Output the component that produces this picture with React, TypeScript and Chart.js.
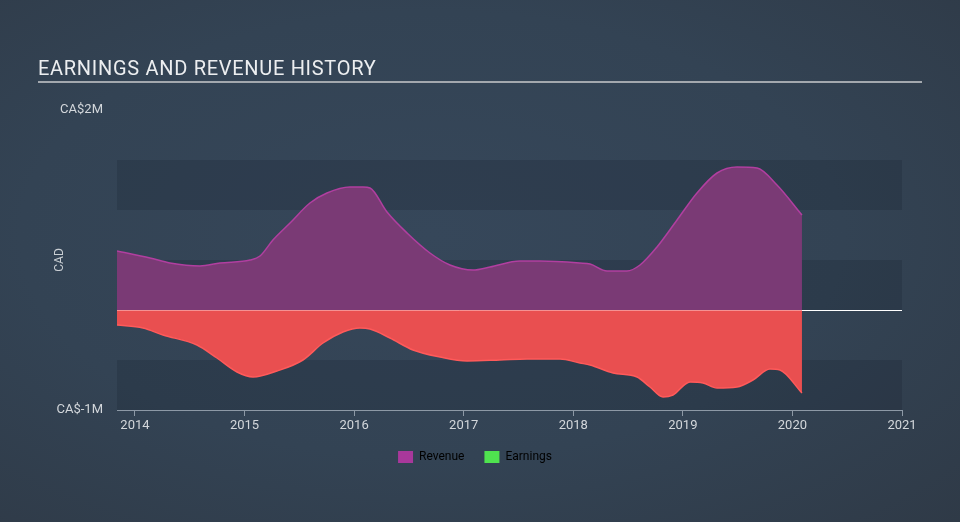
import { useEffect, useRef } from "react";
import { Chart, registerables } from "chart.js";

Chart.register(...registerables);

const TITLE = "EARNINGS AND REVENUE HISTORY";
const Y_TITLE = "CAD";
const YEAR_TICKS = [2014, 2015, 2016, 2017, 2018, 2019, 2020, 2021];
const Y_TICKS = [-1, 2];
const X_MIN = 2013.836;
const X_MAX = 2021;
const Y_MIN = -1;
const Y_MAX = 2;
const BANDS = [
  [1.0, 1.5],
  [0, 0.5],
  [-1, -0.5],
];

const REVENUE_YEARS = [
  2013.836, 2014.137, 2014.319, 2014.593, 2014.776, 2015.05, 2015.141, 2015.259,
  2015.415, 2015.597, 2015.752, 2015.962, 2016.081, 2016.145, 2016.3, 2016.483,
  2016.692, 2016.875, 2017.085, 2017.24, 2017.514, 2017.696, 2018.061, 2018.153,
  2018.308, 2018.49, 2018.609, 2018.764, 2018.947, 2019.129, 2019.312, 2019.494,
  2019.677, 2019.859, 2020.087,
];
const REVENUE_VALUES = [
  0.59, 0.52, 0.47, 0.44, 0.47, 0.5, 0.54, 0.7, 0.87, 1.07, 1.17, 1.23, 1.23,
  1.22, 0.98, 0.77, 0.57, 0.45, 0.4, 0.43, 0.49, 0.49, 0.47, 0.46, 0.39, 0.39,
  0.45, 0.63, 0.9, 1.17, 1.37, 1.43, 1.42, 1.25, 0.95,
];

const EARNINGS_YEARS = [
  2013.836, 2014.073, 2014.256, 2014.566, 2014.748, 2014.931, 2015.077, 2015.296,
  2015.533, 2015.716, 2015.898, 2016.053, 2016.145, 2016.327, 2016.537, 2016.784,
  2017.03, 2017.331, 2017.578, 2017.879, 2018.061, 2018.153, 2018.363, 2018.582,
  2018.7, 2018.819, 2018.91, 2019.065, 2019.184, 2019.312, 2019.494, 2019.64,
  2019.795, 2019.886, 2020.087,
];
const EARNINGS_VALUES = [
  -0.15, -0.18, -0.25, -0.35, -0.48, -0.62, -0.67, -0.61, -0.5, -0.33, -0.22,
  -0.18, -0.19, -0.28, -0.4, -0.47, -0.51, -0.5, -0.49, -0.49, -0.53, -0.55,
  -0.63, -0.67, -0.77, -0.87, -0.85, -0.72, -0.73, -0.78, -0.77, -0.7, -0.59,
  -0.6, -0.83,
];

const FONT = "Roboto, 'Open Sans', sans-serif";

export default function App() {
  const canvasRef = useRef<HTMLCanvasElement | null>(null);

  useEffect(() => {
    document.body.style.margin = "0";
    document.body.style.background = "#333f4e";
    const canvas = canvasRef.current;
    if (!canvas) return;

    const bandsPlugin = {
      id: "bands",
      beforeDatasetsDraw(chart: any) {
        const { ctx, chartArea, scales } = chart;
        const y = scales.y;
        ctx.save();
        ctx.fillStyle = "rgba(10, 20, 30, 0.16)";
        for (const [a, b] of BANDS) {
          const y1 = y.getPixelForValue(b);
          const y2 = y.getPixelForValue(a);
          ctx.fillRect(chartArea.left, y1, chartArea.right - chartArea.left, y2 - y1);
        }
        ctx.restore();
      },
      afterDatasetsDraw(chart: any) {
        const { ctx, chartArea, scales } = chart;
        const y0 = Math.round(scales.y.getPixelForValue(0)) + 0.5;
        const xEnd = scales.x.getPixelForValue(REVENUE_YEARS[REVENUE_YEARS.length - 1]);
        ctx.save();
        ctx.lineWidth = 1;
        ctx.strokeStyle = "rgba(255, 200, 200, 0.55)";
        ctx.beginPath();
        ctx.moveTo(chartArea.left, y0);
        ctx.lineTo(xEnd, y0);
        ctx.stroke();
        ctx.strokeStyle = "#ffffff";
        ctx.beginPath();
        ctx.moveTo(xEnd, y0);
        ctx.lineTo(chartArea.right, y0);
        ctx.stroke();
        ctx.restore();
      },
      afterDraw(chart: any) {
        const { ctx, chartArea } = chart;
        ctx.save();
        ctx.fillStyle = "#eceef0";
        ctx.font = `20px ${FONT}`;
        ctx.textBaseline = "alphabetic";
        ctx.textAlign = "left";
        (ctx as any).letterSpacing = "0.7px";
        ctx.fillText(TITLE, 38, 75);
        (ctx as any).letterSpacing = "0px";
        ctx.fillStyle = "#a3a8ae";
        ctx.fillRect(38, 81, 884, 2);
        ctx.translate(60, (chartArea.top + chartArea.bottom) / 2);
        ctx.rotate(-Math.PI / 2);
        ctx.textAlign = "center";
        ctx.textBaseline = "middle";
        ctx.font = `12px ${FONT}`;
        ctx.fillStyle = "#c9ced3";
        ctx.fillText(Y_TITLE, 0, 0);
        ctx.restore();
      },
    };

    const chart = new Chart(canvas, {
      type: "line",
      data: {
        datasets: [
          {
            label: "Revenue",
            data: REVENUE_YEARS.map((x, i) => ({ x, y: REVENUE_VALUES[i] })),
            borderColor: "#b13fa0",
            backgroundColor: "#7a3a75",
            borderWidth: 1.5,
            fill: "origin",
            pointRadius: 0,
            cubicInterpolationMode: "monotone",
          },
          {
            label: "Earnings",
            data: EARNINGS_YEARS.map((x, i) => ({ x, y: EARNINGS_VALUES[i] })),
            borderColor: "#ff5a5a",
            backgroundColor: "#e94f50",
            borderWidth: 1.5,
            fill: "origin",
            pointRadius: 0,
            cubicInterpolationMode: "monotone",
          },
        ],
      },
      options: {
        animation: false,
        responsive: false,
        maintainAspectRatio: false,
        layout: { padding: { top: 110, left: 48, right: 58, bottom: 49 } },
        scales: {
          x: {
            type: "linear",
            min: X_MIN,
            max: X_MAX,
            afterBuildTicks: (s: any) => {
              s.ticks = YEAR_TICKS.map((v) => ({ value: v }));
            },
            afterFit: (s: any) => {
              s.height = 21;
            },
            grid: {
              display: true,
              drawOnChartArea: false,
              drawTicks: true,
              tickLength: 6,
              color: "#8d99a6",
            },
            border: { display: true, color: "#8d99a6", width: 1 },
            ticks: {
              color: "#d3d7db",
              font: { family: FONT, size: 13 },
              padding: 2,
              maxRotation: 0,
              autoSkip: false,
              callback: (v: any) => String(v),
            },
          },
          y: {
            type: "linear",
            min: Y_MIN,
            max: Y_MAX,
            afterBuildTicks: (s: any) => {
              s.ticks = Y_TICKS.map((v) => ({ value: v }));
            },
            afterFit: (s: any) => {
              s.width = 69;
            },
            grid: { display: false, drawTicks: false },
            border: { display: false },
            ticks: {
              color: "#d3d7db",
              font: { family: FONT, size: 13 },
              padding: 14,
              callback: (v: any) => `CA$${v}M`,
            },
          },
        },
        plugins: {
          title: { display: false },
          tooltip: { enabled: false },
          legend: {
            display: true,
            position: "bottom",
            labels: {
              boxWidth: 15,
              boxHeight: 12,
              padding: 20,
              color: "#d3d7db",
              font: { family: FONT, size: 12 },
              generateLabels: () => [
                { text: "Revenue", fillStyle: "#a8389b", strokeStyle: "#a8389b", lineWidth: 0, datasetIndex: 0 },
                { text: "Earnings", fillStyle: "#4fe34f", strokeStyle: "#4fe34f", lineWidth: 0, datasetIndex: 1 },
              ],
            },
          },
        },
      },
      plugins: [bandsPlugin],
    } as any);

    return () => chart.destroy();
  }, []);

  return (
    <div
      style={{
        width: 960,
        height: 522,
        background:
          "radial-gradient(ellipse at 45% 45%, #36475a 0%, #334354 55%, #2f3a47 100%)",
      }}
    >
      <canvas ref={canvasRef} width={960} height={522} style={{ display: "block" }} />
    </div>
  );
}
